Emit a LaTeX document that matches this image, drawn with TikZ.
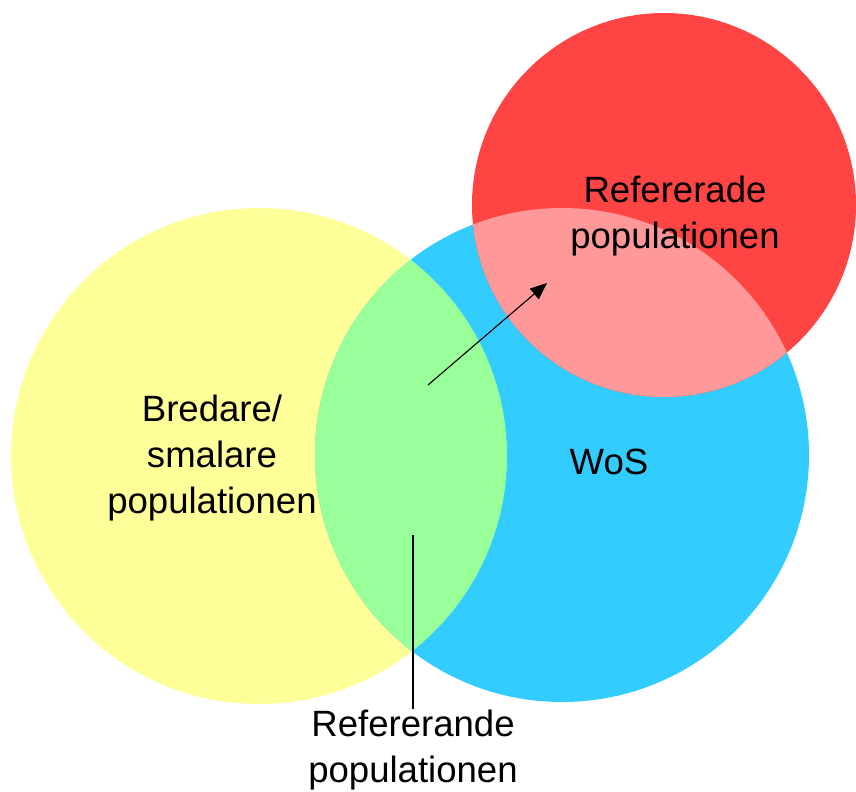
\documentclass[tikz,border=0pt]{standalone}
\usepackage{fontspec}
\setmainfont{Liberation Sans}
\usetikzlibrary{arrows.meta}
\definecolor{ljusgul}{HTML}{FFFF99}
\definecolor{ljusgron}{HTML}{99FF99}
\definecolor{ljusbla}{HTML}{33CCFF}
\definecolor{klarrod}{HTML}{FF4444}
\definecolor{ljusrod}{HTML}{FF9999}
\tikzset{
    etikett/.style={align=center, font=\fontsize{26}{33}\selectfont, inner sep=0pt},
}
\begin{document}
\begin{tikzpicture}[x=0.025cm, y=-0.025cm]
    \useasboundingbox (0,0) rectangle (856,791);

    % circle centres
    \coordinate (bred) at (259,456);
    \coordinate (wos) at (562,455);
    \coordinate (refd) at (664,205);

    \fill[ljusgul] (bred) circle (248);
    \fill[ljusbla] (wos) circle (247);
    \begin{scope}
        \clip (bred) circle (248);
        \fill[ljusgron] (wos) circle (247);
    \end{scope}
    \fill[klarrod] (refd) circle (192);
    \begin{scope}
        \clip (wos) circle (247);
        \fill[ljusrod] (refd) circle (192);
    \end{scope}

    \node[etikett] (bredtext) at (212,458) {Bredare/\\smalare\\populationen};
    \node[etikett] (wostext) at (609,462) {WoS};
    \node[etikett] (refdtext) at (675,216) {Refererade\\populationen};
    \node[etikett] (refntext) at (413,750) {Refererande\\populationen};

    \coordinate (pilstart) at (428,385);
    \coordinate (pilslut) at (547,283);
    \draw[-{Triangle[length=4.2mm,width=3.4mm]}, thick] (pilstart) -- (pilslut);

    \coordinate (linjetopp) at (413,535);
    \draw[thick] (linjetopp) -- (refntext.north -| linjetopp);
\end{tikzpicture}
\end{document}
